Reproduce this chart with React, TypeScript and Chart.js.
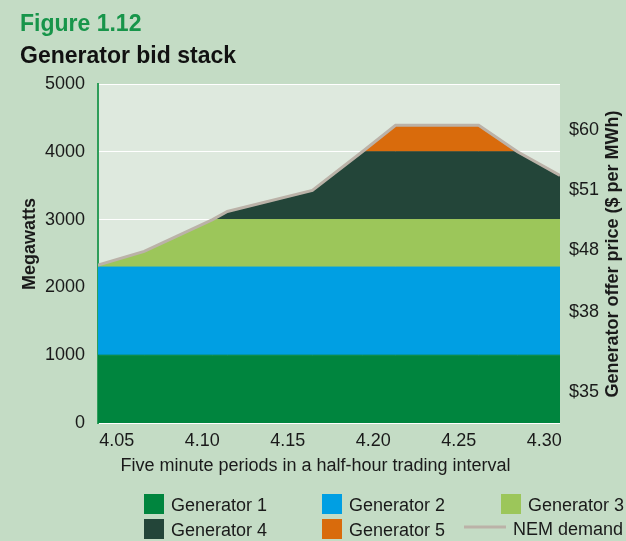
import { useEffect, useRef } from "react";
import { Chart, registerables } from "chart.js";

Chart.register(...registerables);

// ---- data ----
// x: minutes after 4.05 within the half-hour trading interval
const minutes = [0, 2.5, 6.2, 7, 11.6, 14.3, 16.1, 20.6, 22.7, 25];
const generator1 = [1000, 1000, 1000, 1000, 1000, 1000, 1000, 1000, 1000, 1000];
const generator2 = [1300, 1300, 1300, 1300, 1300, 1300, 1300, 1300, 1300, 1300];
const generator3 = [30, 230, 700, 700, 700, 700, 700, 700, 700, 700];
const generator4 = [0, 0, 0, 120, 430, 1000, 1000, 1000, 1000, 650];
const generator5 = [0, 0, 0, 0, 0, 0, 390, 390, 0, 0];
const nemDemand = [2330, 2530, 3000, 3120, 3430, 4000, 4390, 4390, 4000, 3650];

const timeLabels = ["4.05", "4.10", "4.15", "4.20", "4.25", "4.30"];
const priceLabels = ["$35", "$38", "$48", "$51", "$60"];
const priceTickValues = [460, 1640, 2550, 3440, 4320];
const megawattTicks = [0, 1000, 2000, 3000, 4000, 5000];

const seriesNames = ["Generator 1", "Generator 2", "Generator 3", "Generator 4", "Generator 5", "NEM demand"];

// ---- styles ----
const FONT = "'Liberation Sans', Arial, Helvetica, sans-serif";
const PAGE_BG = "#c4dcc5";
const PLOT_BG = "#dee9de";
const COLORS = ["#00853e", "#009fe3", "#9cc65a", "#234539", "#d96b0c", "#bbb2a8"];
const TEXT = "#1a1a1a";

const decorPlugin = {
  id: "decor",
  beforeDraw(chart: any) {
    const { ctx, chartArea: a } = chart;
    ctx.save();
    ctx.fillStyle = PLOT_BG;
    ctx.fillRect(a.left, a.top, a.right - a.left, a.bottom - a.top);
    ctx.restore();
  },
  afterDraw(chart: any) {
    const ctx = chart.ctx as CanvasRenderingContext2D;
    ctx.save();
    ctx.textBaseline = "alphabetic";
    ctx.textAlign = "left";
    ctx.font = `bold 23px ${FONT}`;
    ctx.fillStyle = "#17954a";
    ctx.fillText("Figure 1.12", 20, 31);
    ctx.fillStyle = "#111111";
    ctx.fillText("Generator bid stack", 20, 63);

    ctx.fillStyle = TEXT;
    ctx.font = `bold 18px ${FONT}`;
    ctx.textAlign = "center";
    ctx.save();
    ctx.translate(35, 244);
    ctx.rotate(-Math.PI / 2);
    ctx.fillText("Megawatts", 0, 0);
    ctx.restore();
    ctx.save();
    ctx.translate(618, 254);
    ctx.rotate(-Math.PI / 2);
    ctx.fillText("Generator offer price ($ per MWh)", 0, 0);
    ctx.restore();

    ctx.font = `18px ${FONT}`;
    ctx.fillText("Five minute periods in a half-hour trading interval", 315.5, 471);

    // legend (3 columns x 2 rows)
    const colX = [144, 322, 501];
    const rowY = [494, 519];
    ctx.textAlign = "left";
    seriesNames.forEach((name, i) => {
      const c = i % 3;
      const r = Math.floor(i / 3);
      const x = colX[c];
      const y = rowY[r];
      if (i < 5) {
        ctx.fillStyle = COLORS[i];
        ctx.fillRect(x, y, 20, 20);
        ctx.fillStyle = TEXT;
        ctx.fillText(name, x + 27, y + 17);
      } else {
        ctx.strokeStyle = COLORS[i];
        ctx.lineWidth = 3;
        ctx.beginPath();
        ctx.moveTo(x - 37, y + 8);
        ctx.lineTo(x + 5, y + 8);
        ctx.stroke();
        ctx.fillStyle = TEXT;
        ctx.fillText(name, x + 12, y + 16);
      }
    });
    ctx.restore();
  },
};

export default function App() {
  const canvasRef = useRef<HTMLCanvasElement | null>(null);

  useEffect(() => {
    if (!canvasRef.current) return;
    const gens = [generator1, generator2, generator3, generator4, generator5];
    const datasets: any[] = gens.map((vals, i) => ({
      label: seriesNames[i],
      data: minutes.map((m, j) => ({ x: m, y: vals[j] })),
      backgroundColor: COLORS[i],
      borderColor: COLORS[i],
      borderWidth: 1,
      pointRadius: 0,
      tension: 0,
      fill: i === 0 ? "origin" : "-1",
      stack: "bids",
      order: 2,
    }));
    datasets.push({
      label: seriesNames[5],
      data: minutes.map((m, j) => ({ x: m, y: nemDemand[j] })),
      borderColor: COLORS[5],
      backgroundColor: COLORS[5],
      borderWidth: 3,
      pointRadius: 0,
      tension: 0,
      fill: false,
      stack: "demand",
      order: 1,
    });

    const chart = new Chart(canvasRef.current, {
      type: "line",
      data: { datasets },
      plugins: [decorPlugin],
      options: {
        animation: false,
        responsive: false,
        devicePixelRatio: 1,
        layout: { padding: { top: 84, left: 0, right: 0, bottom: 0 } },
        plugins: { legend: { display: false }, tooltip: { enabled: false }, title: { display: false } },
        scales: {
          x: { type: "linear", display: false, min: 0, max: 25 },
          xl: {
            type: "linear",
            position: "bottom",
            min: -0.22,
            max: 5.185,
            grid: { display: false, drawTicks: false },
            border: { display: false },
            afterBuildTicks: (scale: any) => {
              scale.ticks = timeLabels.map((_, i) => ({ value: i }));
            },
            afterFit: (scale: any) => {
              scale.height = 118;
            },
            ticks: {
              padding: 7,
              maxRotation: 0,
              autoSkip: false,
              color: TEXT,
              font: { family: FONT, size: 18 },
              callback: (_v: any, i: number) => timeLabels[i],
            },
          },
          y: {
            type: "linear",
            position: "left",
            stacked: true,
            min: 0,
            max: 5000,
            afterBuildTicks: (scale: any) => {
              scale.ticks = megawattTicks.map((v) => ({ value: v }));
            },
            afterFit: (scale: any) => {
              scale.width = 98;
            },
            grid: { color: "#ffffff", lineWidth: 1, drawTicks: false },
            border: { display: true, color: "#2f9d5a", width: 2 },
            ticks: {
              padding: 13,
              color: TEXT,
              font: { family: FONT, size: 18 },
              callback: (v: any) => String(v),
            },
          },
          yr: {
            type: "linear",
            position: "right",
            min: 0,
            max: 5000,
            afterBuildTicks: (scale: any) => {
              scale.ticks = priceTickValues.map((v) => ({ value: v }));
            },
            afterFit: (scale: any) => {
              scale.width = 66;
            },
            grid: { display: false, drawTicks: false },
            border: { display: false },
            ticks: {
              padding: 9,
              color: TEXT,
              font: { family: FONT, size: 18 },
              callback: (_v: any, i: number) => priceLabels[i],
            },
          },
        },
      } as any,
    });
    return () => chart.destroy();
  }, []);

  return (
    <div
      style={{
        position: "fixed",
        left: 0,
        top: 0,
        width: 626,
        height: 541,
        background: PAGE_BG,
      }}
    >
      <canvas ref={canvasRef} width={626} height={541} style={{ display: "block" }} />
    </div>
  );
}
